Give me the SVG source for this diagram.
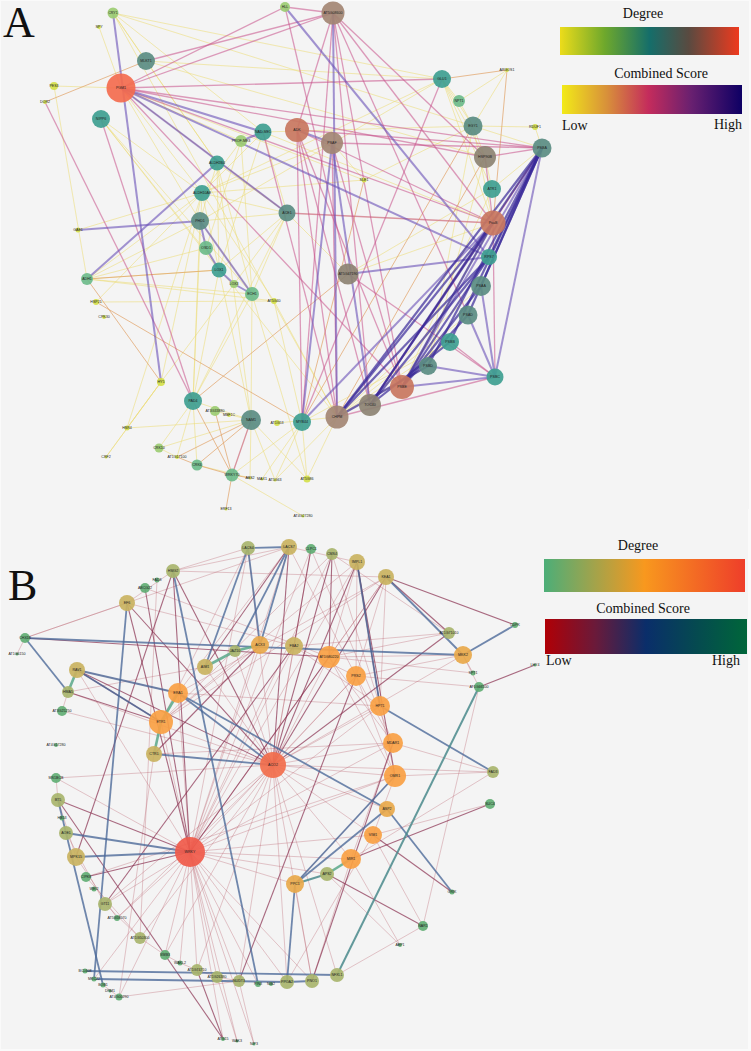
<svg xmlns="http://www.w3.org/2000/svg" width="751" height="1051" viewBox="0 0 751 1051">
<defs>
<linearGradient id="gDegA" x1="0" x2="1" y1="0" y2="0">
<stop offset="0" stop-color="#ecdc1a"/><stop offset="0.25" stop-color="#6ea82c"/><stop offset="0.5" stop-color="#156e6a"/><stop offset="0.72" stop-color="#5a4a40"/><stop offset="1" stop-color="#ee3a1e"/>
</linearGradient>
<linearGradient id="gScoA" x1="0" x2="1" y1="0" y2="0">
<stop offset="0" stop-color="#f2ea18"/><stop offset="0.25" stop-color="#d8903a"/><stop offset="0.48" stop-color="#c42c5c"/><stop offset="0.72" stop-color="#682070"/><stop offset="1" stop-color="#0e0064"/>
</linearGradient>
<linearGradient id="gDegB" x1="0" x2="1" y1="0" y2="0">
<stop offset="0" stop-color="#4cae78"/><stop offset="0.5" stop-color="#f8981e"/><stop offset="1" stop-color="#ee3e2a"/>
</linearGradient>
<linearGradient id="gScoB" x1="0" x2="1" y1="0" y2="0">
<stop offset="0" stop-color="#b00006"/><stop offset="0.25" stop-color="#6a1a3a"/><stop offset="0.5" stop-color="#0a2e6a"/><stop offset="0.75" stop-color="#054a50"/><stop offset="1" stop-color="#00663a"/>
</linearGradient>
<style>
.ay{stroke:#eedd77;stroke-width:0.8;opacity:0.7}
.ao{stroke:#e2a266;stroke-width:1;opacity:0.7}
.ap{stroke:#c8508a;stroke-width:1.3;opacity:0.55}
.av{stroke:#6a50b8;stroke-width:2;opacity:0.6}
.an{stroke:#3a2a9a;stroke-width:2.2;opacity:0.7}
.br{stroke:#b85a68;stroke-width:0.6;opacity:0.55}
.bd{stroke:#8a3050;stroke-width:1.1;opacity:0.7}
.bb{stroke:#4a6898;stroke-width:1.8;opacity:0.78}
.bg{stroke:#5aa88a;stroke-width:2.6;opacity:0.85}
.bt{stroke:#4a8a8c;stroke-width:2;opacity:0.85}
circle{stroke:none;opacity:0.92}
.t{font-family:"Liberation Sans",Arial,sans-serif;font-size:3.6px;fill:#222;text-anchor:middle;dominant-baseline:middle}
.L{font-family:"Liberation Serif","Times New Roman",serif;fill:#111}
.ky{fill:#d4e04a}.kl{fill:#9ccc72}.kg{fill:#6dbb8a}.kt{fill:#3e9e90}.ks{fill:#5a8c82}.kb{fill:#8c8272}.kn{fill:#a38573}.kr{fill:#c8765e}.kx{fill:#f36b4e}
.mg{fill:#62ae74}.mo{fill:#a8b46c}.mt{fill:#c9b260}.ma{fill:#e8a84a}.mp{fill:#f8a043}.mr{fill:#f26e4c}.mx{fill:#f05a4a}
</style>
</defs>
<rect x="0" y="0" width="751" height="1051" fill="#fafafa"/>
<rect x="1" y="1" width="748" height="508" fill="#f4f4f4"/>
<rect x="1" y="509" width="747" height="540" fill="#f4f4f4"/>

<text class="L" x="3" y="37" font-size="44">A</text>
<text class="L" x="8" y="600" font-size="44">B</text>

<g id="legendA">
<text class="L" x="643" y="18" font-size="14" text-anchor="middle">Degree</text>
<rect x="560" y="27" width="179" height="28" fill="url(#gDegA)"/>
<text class="L" x="661" y="78" font-size="14" text-anchor="middle">Combined Score</text>
<rect x="562" y="85" width="180" height="29" fill="url(#gScoA)"/>
<text class="L" x="562" y="130" font-size="14">Low</text>
<text class="L" x="742" y="129" font-size="14" text-anchor="end">High</text>
</g>
<g id="legendB">
<text class="L" x="638" y="550" font-size="14" text-anchor="middle">Degree</text>
<rect x="544" y="559" width="201" height="33" fill="url(#gDegB)"/>
<text class="L" x="643" y="613" font-size="14" text-anchor="middle">Combined Score</text>
<rect x="545" y="619" width="202" height="35" fill="url(#gScoB)"/>
<text class="L" x="546" y="665" font-size="14">Low</text>
<text class="L" x="740" y="665" font-size="14" text-anchor="end">High</text>
</g>

<g id="connectorsA">
<line class="ay" x1="113" y1="13" x2="146" y2="61"/>
<line class="ay" x1="113" y1="13" x2="442" y2="79"/>
<line class="ay" x1="113" y1="13" x2="217" y2="163"/>
<line class="ay" x1="113" y1="13" x2="263" y2="132"/>
<line class="ay" x1="113" y1="13" x2="473" y2="126"/>
<line class="ay" x1="113" y1="13" x2="337" y2="417"/>
<line class="ay" x1="99" y1="27" x2="121" y2="88"/>
<line class="ay" x1="54" y1="86" x2="121" y2="88"/>
<line class="ay" x1="54" y1="86" x2="87" y2="279"/>
<line class="ay" x1="146" y1="61" x2="217" y2="163"/>
<line class="ay" x1="146" y1="61" x2="485" y2="157"/>
<line class="ay" x1="146" y1="61" x2="442" y2="79"/>
<line class="ay" x1="101" y1="119" x2="219" y2="270"/>
<line class="ay" x1="101" y1="119" x2="202" y2="193"/>
<line class="ay" x1="101" y1="119" x2="252" y2="294"/>
<line class="ay" x1="101" y1="119" x2="337" y2="417"/>
<line class="ay" x1="121" y1="88" x2="241" y2="141"/>
<line class="ay" x1="121" y1="88" x2="202" y2="193"/>
<line class="ay" x1="121" y1="88" x2="200" y2="221"/>
<line class="ay" x1="121" y1="88" x2="364" y2="180"/>
<line class="ay" x1="217" y1="163" x2="287" y2="213"/>
<line class="ay" x1="202" y1="193" x2="219" y2="270"/>
<line class="ay" x1="202" y1="193" x2="332" y2="143"/>
<line class="ay" x1="202" y1="193" x2="442" y2="79"/>
<line class="ay" x1="202" y1="193" x2="87" y2="279"/>
<line class="ay" x1="202" y1="193" x2="274" y2="301"/>
<line class="ay" x1="200" y1="221" x2="87" y2="279"/>
<line class="ay" x1="200" y1="221" x2="193" y2="401"/>
<line class="ay" x1="200" y1="221" x2="252" y2="294"/>
<line class="ay" x1="200" y1="221" x2="287" y2="213"/>
<line class="ay" x1="200" y1="221" x2="442" y2="79"/>
<line class="ay" x1="206" y1="248" x2="87" y2="279"/>
<line class="ay" x1="219" y1="270" x2="87" y2="279"/>
<line class="ay" x1="87" y1="279" x2="252" y2="294"/>
<line class="ay" x1="87" y1="279" x2="274" y2="301"/>
<line class="ay" x1="96" y1="302" x2="202" y2="193"/>
<line class="ay" x1="96" y1="302" x2="274" y2="301"/>
<line class="ay" x1="78" y1="230" x2="202" y2="193"/>
<line class="ay" x1="161" y1="382" x2="127" y2="428"/>
<line class="ay" x1="161" y1="382" x2="202" y2="193"/>
<line class="ay" x1="161" y1="382" x2="106" y2="457"/>
<line class="ay" x1="193" y1="401" x2="159" y2="448"/>
<line class="ay" x1="193" y1="401" x2="177" y2="457"/>
<line class="ay" x1="193" y1="401" x2="197" y2="465"/>
<line class="ay" x1="193" y1="401" x2="251" y2="420"/>
<line class="ay" x1="193" y1="401" x2="202" y2="193"/>
<line class="ay" x1="193" y1="401" x2="219" y2="270"/>
<line class="ay" x1="193" y1="401" x2="252" y2="294"/>
<line class="ay" x1="193" y1="401" x2="287" y2="213"/>
<line class="ay" x1="215" y1="411" x2="251" y2="420"/>
<line class="ay" x1="251" y1="420" x2="232" y2="475"/>
<line class="ay" x1="251" y1="420" x2="159" y2="448"/>
<line class="ay" x1="251" y1="420" x2="275" y2="480"/>
<line class="ay" x1="251" y1="420" x2="252" y2="294"/>
<line class="ay" x1="251" y1="420" x2="219" y2="270"/>
<line class="ay" x1="251" y1="420" x2="217" y2="163"/>
<line class="ay" x1="251" y1="420" x2="250" y2="478"/>
<line class="ay" x1="251" y1="420" x2="127" y2="428"/>
<line class="ay" x1="159" y1="448" x2="177" y2="457"/>
<line class="ay" x1="197" y1="465" x2="250" y2="478"/>
<line class="ay" x1="307" y1="479" x2="302" y2="422"/>
<line class="ay" x1="307" y1="479" x2="337" y2="417"/>
<line class="ay" x1="307" y1="479" x2="251" y2="420"/>
<line class="ay" x1="307" y1="479" x2="252" y2="294"/>
<line class="ay" x1="364" y1="180" x2="332" y2="143"/>
<line class="ay" x1="364" y1="180" x2="473" y2="126"/>
<line class="ay" x1="364" y1="180" x2="202" y2="193"/>
<line class="ay" x1="442" y1="79" x2="473" y2="126"/>
<line class="ay" x1="442" y1="79" x2="459" y2="101"/>
<line class="ay" x1="442" y1="79" x2="485" y2="157"/>
<line class="ay" x1="442" y1="79" x2="493" y2="223"/>
<line class="ay" x1="442" y1="79" x2="492" y2="189"/>
<line class="ay" x1="459" y1="101" x2="473" y2="126"/>
<line class="ay" x1="507" y1="70" x2="473" y2="126"/>
<line class="ay" x1="507" y1="70" x2="459" y2="101"/>
<line class="ay" x1="473" y1="126" x2="485" y2="157"/>
<line class="ay" x1="473" y1="126" x2="542" y2="148"/>
<line class="ay" x1="473" y1="126" x2="428" y2="366"/>
<line class="ay" x1="535" y1="127" x2="542" y2="148"/>
<line class="ay" x1="535" y1="127" x2="473" y2="126"/>
<line class="ay" x1="485" y1="157" x2="492" y2="189"/>
<line class="ay" x1="485" y1="157" x2="428" y2="366"/>
<line class="ay" x1="492" y1="189" x2="542" y2="148"/>
<line class="ay" x1="492" y1="189" x2="402" y2="387"/>
<line class="ay" x1="492" y1="189" x2="348" y2="274"/>
<line class="ay" x1="493" y1="223" x2="348" y2="274"/>
<line class="ay" x1="493" y1="223" x2="287" y2="213"/>
<line class="ay" x1="493" y1="223" x2="263" y2="132"/>
<line class="ay" x1="481" y1="286" x2="337" y2="417"/>
<line class="ay" x1="468" y1="315" x2="337" y2="417"/>
<line class="ay" x1="450" y1="342" x2="337" y2="417"/>
<line class="ay" x1="450" y1="342" x2="302" y2="422"/>
<line class="ay" x1="428" y1="366" x2="337" y2="417"/>
<line class="ay" x1="287" y1="213" x2="348" y2="274"/>
<line class="ay" x1="287" y1="213" x2="219" y2="270"/>
<line class="ay" x1="287" y1="213" x2="252" y2="294"/>
<line class="ay" x1="287" y1="213" x2="202" y2="193"/>
<line class="ay" x1="274" y1="301" x2="337" y2="417"/>
<line class="ay" x1="274" y1="301" x2="302" y2="422"/>
<line class="ay" x1="302" y1="422" x2="232" y2="475"/>
<line class="ay" x1="302" y1="422" x2="262" y2="479"/>
<line class="ay" x1="302" y1="422" x2="275" y2="480"/>
<line class="ay" x1="337" y1="417" x2="275" y2="480"/>
<line class="ay" x1="337" y1="417" x2="277" y2="423"/>
<line class="ay" x1="241" y1="141" x2="202" y2="193"/>
<line class="ay" x1="241" y1="141" x2="206" y2="248"/>
<line class="ay" x1="241" y1="141" x2="252" y2="294"/>
<line class="ay" x1="263" y1="132" x2="219" y2="270"/>
<line class="ay" x1="263" y1="132" x2="202" y2="193"/>
<line class="ay" x1="263" y1="132" x2="287" y2="213"/>
<line class="ay" x1="263" y1="132" x2="473" y2="126"/>
<line class="ay" x1="217" y1="163" x2="200" y2="221"/>
<line class="ay" x1="217" y1="163" x2="252" y2="294"/>
<line class="ay" x1="217" y1="163" x2="219" y2="270"/>
<line class="ay" x1="493" y1="223" x2="473" y2="126"/>
<line class="ay" x1="493" y1="223" x2="402" y2="387"/>
<line class="ay" x1="232" y1="475" x2="303" y2="516"/>
<line class="ay" x1="161" y1="382" x2="287" y2="213"/>
<line class="ay" x1="127" y1="428" x2="202" y2="193"/>
<line class="ay" x1="106" y1="457" x2="161" y2="382"/>
<line class="ao" x1="45" y1="102" x2="146" y2="61"/>
<line class="ao" x1="193" y1="401" x2="232" y2="475"/>
<line class="ao" x1="215" y1="411" x2="232" y2="475"/>
<line class="ao" x1="197" y1="465" x2="232" y2="475"/>
<line class="ao" x1="177" y1="457" x2="197" y2="465"/>
<line class="ao" x1="232" y1="475" x2="226" y2="509"/>
<line class="ao" x1="96" y1="302" x2="302" y2="422"/>
<line class="ao" x1="87" y1="279" x2="161" y2="382"/>
<line class="ao" x1="87" y1="279" x2="219" y2="270"/>
<line class="ao" x1="442" y1="79" x2="507" y2="70"/>
<line class="ao" x1="507" y1="70" x2="493" y2="223"/>
<line class="ao" x1="485" y1="157" x2="337" y2="417"/>
<line class="ao" x1="542" y1="148" x2="370" y2="405"/>
<line class="ao" x1="364" y1="180" x2="302" y2="422"/>
<line class="ao" x1="348" y1="274" x2="193" y2="401"/>
<line class="ao" x1="287" y1="213" x2="121" y2="88"/>
<line class="ao" x1="251" y1="420" x2="197" y2="465"/>
<line class="ao" x1="251" y1="420" x2="177" y2="457"/>
<line class="ao" x1="233" y1="475" x2="250" y2="478"/>
<line class="ao" x1="473" y1="126" x2="302" y2="422"/>
<line class="ap" x1="121" y1="88" x2="333" y2="13"/>
<line class="ap" x1="121" y1="88" x2="542" y2="148"/>
<line class="ap" x1="121" y1="88" x2="485" y2="157"/>
<line class="ap" x1="121" y1="88" x2="493" y2="223"/>
<line class="ap" x1="121" y1="88" x2="402" y2="387"/>
<line class="ap" x1="121" y1="88" x2="442" y2="79"/>
<line class="ap" x1="101" y1="119" x2="193" y2="401"/>
<line class="ap" x1="45" y1="102" x2="193" y2="401"/>
<line class="ap" x1="146" y1="61" x2="333" y2="13"/>
<line class="ap" x1="285" y1="7" x2="348" y2="274"/>
<line class="ap" x1="285" y1="7" x2="333" y2="13"/>
<line class="ap" x1="285" y1="7" x2="121" y2="88"/>
<line class="ap" x1="333" y1="13" x2="493" y2="223"/>
<line class="ap" x1="333" y1="13" x2="402" y2="387"/>
<line class="ap" x1="333" y1="13" x2="468" y2="315"/>
<line class="ap" x1="333" y1="13" x2="485" y2="157"/>
<line class="ap" x1="333" y1="13" x2="302" y2="422"/>
<line class="ap" x1="333" y1="13" x2="370" y2="405"/>
<line class="ap" x1="333" y1="13" x2="297" y2="130"/>
<line class="ap" x1="297" y1="130" x2="337" y2="417"/>
<line class="ap" x1="297" y1="130" x2="370" y2="405"/>
<line class="ap" x1="297" y1="130" x2="302" y2="422"/>
<line class="ap" x1="297" y1="130" x2="402" y2="387"/>
<line class="ap" x1="297" y1="130" x2="542" y2="148"/>
<line class="ap" x1="297" y1="130" x2="493" y2="223"/>
<line class="ap" x1="332" y1="143" x2="542" y2="148"/>
<line class="ap" x1="332" y1="143" x2="402" y2="387"/>
<line class="ap" x1="332" y1="143" x2="337" y2="417"/>
<line class="ap" x1="485" y1="157" x2="493" y2="223"/>
<line class="ap" x1="542" y1="148" x2="485" y2="157"/>
<line class="ap" x1="542" y1="148" x2="493" y2="223"/>
<line class="ap" x1="337" y1="417" x2="495" y2="377"/>
<line class="ap" x1="348" y1="274" x2="495" y2="377"/>
<line class="ap" x1="287" y1="213" x2="493" y2="223"/>
<line class="ap" x1="495" y1="377" x2="450" y2="342"/>
<line class="ap" x1="495" y1="377" x2="493" y2="223"/>
<line class="ap" x1="442" y1="79" x2="302" y2="422"/>
<line class="ap" x1="263" y1="132" x2="337" y2="417"/>
<line class="ap" x1="370" y1="405" x2="493" y2="223"/>
<line class="ap" x1="232" y1="475" x2="251" y2="420"/>
<line class="av" x1="113" y1="13" x2="161" y2="382"/>
<line class="av" x1="121" y1="88" x2="287" y2="213"/>
<line class="av" x1="121" y1="88" x2="489" y2="257"/>
<line class="av" x1="121" y1="88" x2="263" y2="132"/>
<line class="av" x1="285" y1="7" x2="489" y2="257"/>
<line class="av" x1="200" y1="221" x2="78" y2="230"/>
<line class="av" x1="87" y1="279" x2="217" y2="163"/>
<line class="av" x1="263" y1="132" x2="241" y2="141"/>
<line class="av" x1="200" y1="221" x2="206" y2="248"/>
<line class="av" x1="206" y1="248" x2="219" y2="270"/>
<line class="av" x1="219" y1="270" x2="234" y2="284"/>
<line class="av" x1="234" y1="284" x2="252" y2="294"/>
<line class="av" x1="200" y1="221" x2="252" y2="294"/>
<line class="av" x1="348" y1="274" x2="489" y2="257"/>
<line class="av" x1="333" y1="13" x2="337" y2="417"/>
<line class="av" x1="332" y1="143" x2="370" y2="405"/>
<line class="av" x1="297" y1="130" x2="332" y2="143"/>
<line class="av" x1="542" y1="148" x2="495" y2="377"/>
<line class="av" x1="542" y1="148" x2="402" y2="387"/>
<line class="av" x1="495" y1="377" x2="402" y2="387"/>
<line class="av" x1="495" y1="377" x2="428" y2="366"/>
<line class="av" x1="495" y1="377" x2="468" y2="315"/>
<line class="av" x1="495" y1="377" x2="481" y2="286"/>
<line class="av" x1="302" y1="422" x2="493" y2="223"/>
<line class="av" x1="302" y1="422" x2="332" y2="143"/>
<line class="an" x1="542" y1="148" x2="450" y2="342"/>
<line class="an" x1="542" y1="148" x2="428" y2="366"/>
<line class="an" x1="542" y1="148" x2="370" y2="405"/>
<line class="an" x1="542" y1="148" x2="337" y2="417"/>
<line class="an" x1="542" y1="148" x2="481" y2="286"/>
<line class="an" x1="542" y1="148" x2="468" y2="315"/>
<line class="an" x1="542" y1="148" x2="489" y2="257"/>
<line class="an" x1="489" y1="257" x2="337" y2="417"/>
<line class="an" x1="489" y1="257" x2="370" y2="405"/>
<line class="an" x1="489" y1="257" x2="402" y2="387"/>
<line class="an" x1="493" y1="223" x2="402" y2="387"/>
<line class="an" x1="493" y1="223" x2="370" y2="405"/>
<line class="an" x1="493" y1="223" x2="337" y2="417"/>
<line class="an" x1="481" y1="286" x2="402" y2="387"/>
<line class="an" x1="468" y1="315" x2="402" y2="387"/>
<line class="an" x1="450" y1="342" x2="370" y2="405"/>
<line class="an" x1="428" y1="366" x2="337" y2="417"/>
</g>

<g id="nodesA">
<g id="a-CRY1"><circle class="kl" cx="113" cy="13" r="5.5"/><text class="t" x="113" y="13">CRY1</text></g>
<g id="a-SPY"><circle class="ky" cx="99" cy="27" r="2"/><text class="t" x="99" y="27">SPY</text></g>
<g id="a-HLL"><circle class="kl" cx="285" cy="7" r="5"/><text class="t" x="285" y="7">HLL</text></g>
<g id="a-AT5G08600"><circle class="kn" cx="333" cy="13" r="11.5"/><text class="t" x="333" y="13">AT5G08600</text></g>
<g id="a-MLKT1"><circle class="ks" cx="146" cy="61" r="9"/><text class="t" x="146" y="61">MLKT1</text></g>
<g id="a-PES3"><circle class="ky" cx="54" cy="86" r="4"/><text class="t" x="54" y="86">PES3</text></g>
<g id="a-DOR2"><circle class="ky" cx="45" cy="102" r="2"/><text class="t" x="45" y="102">DOR2</text></g>
<g id="a-PGM1"><circle class="kx" cx="121" cy="88" r="14.5"/><text class="t" x="121" y="88">PGM1</text></g>
<g id="a-NIPP6"><circle class="kt" cx="101" cy="119" r="9"/><text class="t" x="101" y="119">NIPP6</text></g>
<g id="a-NAD-ME1"><circle class="kt" cx="263" cy="132" r="8.5"/><text class="t" x="263" y="132">NAD-ME1</text></g>
<g id="a-PROF-ME3"><circle class="kl" cx="241" cy="141" r="6"/><text class="t" x="241" y="141">PROF-ME3</text></g>
<g id="a-ALDH2B4"><circle class="kt" cx="217" cy="163" r="7.5"/><text class="t" x="217" y="163">ALDH2B4</text></g>
<g id="a-ALDH10A8"><circle class="kt" cx="202" cy="193" r="8"/><text class="t" x="202" y="193">ALDH10A8</text></g>
<g id="a-PHD1"><circle class="ks" cx="200" cy="221" r="9"/><text class="t" x="200" y="221">PHD1</text></g>
<g id="a-GAE1"><circle class="ky" cx="78" cy="230" r="2.5"/><text class="t" x="78" y="230">GAE1</text></g>
<g id="a-OSD1"><circle class="kg" cx="206" cy="248" r="7"/><text class="t" x="206" y="248">OSD1</text></g>
<g id="a-ACE1"><circle class="ks" cx="287" cy="213" r="8.5"/><text class="t" x="287" y="213">ACE1</text></g>
<g id="a-GLU1"><circle class="kt" cx="442" cy="79" r="9"/><text class="t" x="442" y="79">GLU1</text></g>
<g id="a-NPT1"><circle class="kg" cx="459" cy="101" r="6"/><text class="t" x="459" y="101">NPT1</text></g>
<g id="a-ARGOS1"><circle class="ky" cx="507" cy="70" r="2"/><text class="t" x="507" y="70">ARGOS1</text></g>
<g id="a-EGY1"><circle class="ks" cx="473" cy="126" r="9.5"/><text class="t" x="473" y="126">EGY1</text></g>
<g id="a-RDUF1"><circle class="ky" cx="535" cy="127" r="3"/><text class="t" x="535" y="127">RDUF1</text></g>
<g id="a-PSBA"><circle class="ks" cx="542" cy="148" r="9.5"/><text class="t" x="542" y="148">PSBA</text></g>
<g id="a-ADK"><circle class="kr" cx="297" cy="130" r="12"/><text class="t" x="297" y="130">ADK</text></g>
<g id="a-PSAF"><circle class="kn" cx="332" cy="143" r="11"/><text class="t" x="332" y="143">PSAF</text></g>
<g id="a-HSP90B"><circle class="kb" cx="485" cy="157" r="11"/><text class="t" x="485" y="157">HSP90B</text></g>
<g id="a-SLE1"><circle class="ky" cx="364" cy="180" r="2.5"/><text class="t" x="364" y="180">SLE1</text></g>
<g id="a-ATR1"><circle class="kt" cx="492" cy="189" r="9"/><text class="t" x="492" y="189">ATR1</text></g>
<g id="a-PsaB"><circle class="kr" cx="493" cy="223" r="12.5"/><text class="t" x="493" y="223">PsaB</text></g>
<g id="a-RPS7"><circle class="kt" cx="489" cy="257" r="8"/><text class="t" x="489" y="257">RPS7</text></g>
<g id="a-ADH1"><circle class="kg" cx="87" cy="279" r="6"/><text class="t" x="87" y="279">ADH1</text></g>
<g id="a-HSP21"><circle class="ky" cx="96" cy="302" r="3"/><text class="t" x="96" y="302">HSP21</text></g>
<g id="a-CPK30"><circle class="ky" cx="104" cy="317" r="2"/><text class="t" x="104" y="317">CPK30</text></g>
<g id="a-LOX1"><circle class="kt" cx="219" cy="270" r="7.5"/><text class="t" x="219" y="270">LOX1</text></g>
<g id="a-LOX3"><circle class="kl" cx="234" cy="284" r="4"/><text class="t" x="234" y="284">LOX3</text></g>
<g id="a-ECH1"><circle class="kg" cx="252" cy="294" r="7"/><text class="t" x="252" y="294">ECH1</text></g>
<g id="a-AT5G40"><circle class="ky" cx="274" cy="301" r="3"/><text class="t" x="274" y="301">AT5G40</text></g>
<g id="a-HY5"><circle class="ky" cx="161" cy="382" r="4"/><text class="t" x="161" y="382">HY5</text></g>
<g id="a-PAD4"><circle class="kt" cx="193" cy="401" r="9"/><text class="t" x="193" y="401">PAD4</text></g>
<g id="a-AT3G33880"><circle class="kl" cx="215" cy="411" r="5"/><text class="t" x="215" y="411">AT3G33880</text></g>
<g id="a-MBF1C"><circle class="ky" cx="229" cy="415" r="2"/><text class="t" x="229" y="415">MBF1C</text></g>
<g id="a-NAM1"><circle class="ks" cx="251" cy="420" r="10"/><text class="t" x="251" y="420">NAM1</text></g>
<g id="a-AT1G53"><circle class="ky" cx="277" cy="423" r="3"/><text class="t" x="277" y="423">AT1G53</text></g>
<g id="a-HSR4"><circle class="ky" cx="127" cy="428" r="2.5"/><text class="t" x="127" y="428">HSR4</text></g>
<g id="a-CRK10"><circle class="kl" cx="159" cy="448" r="4.5"/><text class="t" x="159" y="448">CRK10</text></g>
<g id="a-CRF2"><circle class="ky" cx="106" cy="457" r="1.5"/><text class="t" x="106" y="457">CRF2</text></g>
<g id="a-AT1G17100"><circle class="ky" cx="177" cy="457" r="2"/><text class="t" x="177" y="457">AT1G17100</text></g>
<g id="a-CRK6"><circle class="kg" cx="197" cy="465" r="5.5"/><text class="t" x="197" y="465">CRK6</text></g>
<g id="a-WRKY70"><circle class="kg" cx="232" cy="475" r="6.5"/><text class="t" x="232" y="475">WRKY70</text></g>
<g id="a-ABS2"><circle class="ky" cx="250" cy="478" r="1.5"/><text class="t" x="250" y="478">ABS2</text></g>
<g id="a-MAX1"><circle class="ky" cx="262" cy="479" r="1.5"/><text class="t" x="262" y="479">MAX1</text></g>
<g id="a-AT5G63"><circle class="ky" cx="275" cy="480" r="1.5"/><text class="t" x="275" y="480">AT5G63</text></g>
<g id="a-ERF13"><circle class="ky" cx="226" cy="509" r="1.5"/><text class="t" x="226" y="509">ERF13</text></g>
<g id="a-AT5G47190"><circle class="kb" cx="348" cy="274" r="10.5"/><text class="t" x="348" y="274">AT5G47190</text></g>
<g id="a-PSAA"><circle class="ks" cx="481" cy="286" r="10"/><text class="t" x="481" y="286">PSAA</text></g>
<g id="a-PSAD"><circle class="ks" cx="468" cy="315" r="9.5"/><text class="t" x="468" y="315">PSAD</text></g>
<g id="a-PSBB"><circle class="kt" cx="450" cy="342" r="9"/><text class="t" x="450" y="342">PSBB</text></g>
<g id="a-PSBD"><circle class="ks" cx="428" cy="366" r="9"/><text class="t" x="428" y="366">PSBD</text></g>
<g id="a-PSBC"><circle class="kt" cx="495" cy="377" r="8.5"/><text class="t" x="495" y="377">PSBC</text></g>
<g id="a-PSBE"><circle class="kr" cx="402" cy="387" r="12"/><text class="t" x="402" y="387">PSBE</text></g>
<g id="a-TOC40"><circle class="kb" cx="370" cy="405" r="11"/><text class="t" x="370" y="405">TOC40</text></g>
<g id="a-CHPM"><circle class="kn" cx="337" cy="417" r="11.5"/><text class="t" x="337" y="417">CHPM</text></g>
<g id="a-MYB44"><circle class="kt" cx="302" cy="422" r="9"/><text class="t" x="302" y="422">MYB44</text></g>
<g id="a-AT5G86"><circle class="ky" cx="307" cy="479" r="3.5"/><text class="t" x="307" y="479">AT5G86</text></g>
<g id="a-AT4G27280"><circle class="ky" cx="303" cy="516" r="1.5"/><text class="t" x="303" y="516">AT4G27280</text></g>
</g>

<g id="connectorsB">
<line class="br" x1="273" y1="765" x2="248" y2="548"/>
<line class="br" x1="273" y1="765" x2="311" y2="549"/>
<line class="br" x1="273" y1="765" x2="62" y2="711"/>
<line class="br" x1="273" y1="765" x2="68" y2="692"/>
<line class="br" x1="273" y1="765" x2="235" y2="651"/>
<line class="br" x1="273" y1="765" x2="205" y2="667"/>
<line class="br" x1="273" y1="765" x2="294" y2="646"/>
<line class="br" x1="273" y1="765" x2="329" y2="657"/>
<line class="br" x1="273" y1="765" x2="356" y2="676"/>
<line class="br" x1="273" y1="765" x2="380" y2="706"/>
<line class="br" x1="273" y1="765" x2="393" y2="743"/>
<line class="br" x1="273" y1="765" x2="395" y2="776"/>
<line class="br" x1="273" y1="765" x2="463" y2="655"/>
<line class="br" x1="273" y1="765" x2="105" y2="904"/>
<line class="br" x1="273" y1="765" x2="117" y2="918"/>
<line class="br" x1="273" y1="765" x2="140" y2="938"/>
<line class="br" x1="273" y1="765" x2="165" y2="955"/>
<line class="br" x1="273" y1="765" x2="197" y2="970"/>
<line class="br" x1="273" y1="765" x2="239" y2="981"/>
<line class="br" x1="273" y1="765" x2="287" y2="982"/>
<line class="br" x1="273" y1="765" x2="312" y2="981"/>
<line class="br" x1="273" y1="765" x2="337" y2="975"/>
<line class="br" x1="273" y1="765" x2="351" y2="859"/>
<line class="br" x1="273" y1="765" x2="373" y2="835"/>
<line class="br" x1="273" y1="765" x2="387" y2="809"/>
<line class="br" x1="273" y1="765" x2="56" y2="778"/>
<line class="br" x1="273" y1="765" x2="493" y2="772"/>
<line class="br" x1="190" y1="852" x2="248" y2="548"/>
<line class="br" x1="190" y1="852" x2="289" y2="547"/>
<line class="br" x1="190" y1="852" x2="311" y2="549"/>
<line class="br" x1="190" y1="852" x2="332" y2="554"/>
<line class="br" x1="190" y1="852" x2="357" y2="562"/>
<line class="br" x1="190" y1="852" x2="386" y2="577"/>
<line class="br" x1="190" y1="852" x2="260" y2="645"/>
<line class="br" x1="190" y1="852" x2="294" y2="646"/>
<line class="br" x1="190" y1="852" x2="356" y2="676"/>
<line class="br" x1="190" y1="852" x2="380" y2="706"/>
<line class="br" x1="190" y1="852" x2="393" y2="743"/>
<line class="br" x1="190" y1="852" x2="395" y2="776"/>
<line class="br" x1="190" y1="852" x2="373" y2="835"/>
<line class="br" x1="190" y1="852" x2="351" y2="859"/>
<line class="br" x1="190" y1="852" x2="327" y2="874"/>
<line class="br" x1="190" y1="852" x2="295" y2="884"/>
<line class="br" x1="190" y1="852" x2="105" y2="904"/>
<line class="br" x1="190" y1="852" x2="117" y2="918"/>
<line class="br" x1="190" y1="852" x2="165" y2="955"/>
<line class="br" x1="190" y1="852" x2="180" y2="963"/>
<line class="br" x1="190" y1="852" x2="197" y2="970"/>
<line class="br" x1="190" y1="852" x2="217" y2="977"/>
<line class="br" x1="190" y1="852" x2="239" y2="981"/>
<line class="br" x1="190" y1="852" x2="258" y2="984"/>
<line class="br" x1="190" y1="852" x2="119" y2="997"/>
<line class="br" x1="190" y1="852" x2="94" y2="979"/>
<line class="br" x1="190" y1="852" x2="287" y2="982"/>
<line class="br" x1="190" y1="852" x2="312" y2="981"/>
<line class="br" x1="190" y1="852" x2="223" y2="1039"/>
<line class="br" x1="190" y1="852" x2="237" y2="1041"/>
<line class="br" x1="190" y1="852" x2="254" y2="1044"/>
<line class="br" x1="190" y1="852" x2="56" y2="778"/>
<line class="br" x1="190" y1="852" x2="77" y2="670"/>
<line class="br" x1="190" y1="852" x2="178" y2="693"/>
<line class="br" x1="190" y1="852" x2="161" y2="722"/>
<line class="br" x1="173" y1="571" x2="248" y2="548"/>
<line class="br" x1="173" y1="571" x2="289" y2="547"/>
<line class="br" x1="173" y1="571" x2="386" y2="577"/>
<line class="br" x1="127" y1="603" x2="173" y2="571"/>
<line class="br" x1="127" y1="603" x2="294" y2="646"/>
<line class="br" x1="25" y1="638" x2="127" y2="603"/>
<line class="br" x1="25" y1="638" x2="17" y2="654"/>
<line class="br" x1="25" y1="638" x2="289" y2="547"/>
<line class="br" x1="289" y1="547" x2="357" y2="562"/>
<line class="br" x1="289" y1="547" x2="356" y2="676"/>
<line class="br" x1="311" y1="549" x2="393" y2="743"/>
<line class="br" x1="332" y1="554" x2="380" y2="706"/>
<line class="br" x1="357" y1="562" x2="329" y2="657"/>
<line class="br" x1="357" y1="562" x2="356" y2="676"/>
<line class="br" x1="386" y1="577" x2="356" y2="676"/>
<line class="br" x1="386" y1="577" x2="380" y2="706"/>
<line class="br" x1="386" y1="577" x2="329" y2="657"/>
<line class="br" x1="449" y1="633" x2="294" y2="646"/>
<line class="br" x1="449" y1="633" x2="332" y2="554"/>
<line class="br" x1="449" y1="633" x2="329" y2="657"/>
<line class="br" x1="463" y1="655" x2="329" y2="657"/>
<line class="br" x1="463" y1="655" x2="473" y2="673"/>
<line class="br" x1="463" y1="655" x2="479" y2="687"/>
<line class="br" x1="463" y1="655" x2="356" y2="676"/>
<line class="br" x1="473" y1="673" x2="329" y2="657"/>
<line class="br" x1="479" y1="687" x2="356" y2="676"/>
<line class="br" x1="294" y1="646" x2="380" y2="706"/>
<line class="br" x1="294" y1="646" x2="356" y2="676"/>
<line class="br" x1="329" y1="657" x2="393" y2="743"/>
<line class="br" x1="329" y1="657" x2="395" y2="776"/>
<line class="br" x1="356" y1="676" x2="393" y2="743"/>
<line class="br" x1="356" y1="676" x2="395" y2="776"/>
<line class="br" x1="380" y1="706" x2="395" y2="776"/>
<line class="br" x1="393" y1="743" x2="493" y2="772"/>
<line class="br" x1="393" y1="743" x2="351" y2="859"/>
<line class="br" x1="395" y1="776" x2="373" y2="835"/>
<line class="br" x1="395" y1="776" x2="295" y2="884"/>
<line class="br" x1="395" y1="776" x2="493" y2="772"/>
<line class="br" x1="493" y1="772" x2="351" y2="859"/>
<line class="br" x1="490" y1="804" x2="373" y2="835"/>
<line class="br" x1="373" y1="835" x2="423" y2="926"/>
<line class="br" x1="351" y1="859" x2="400" y2="945"/>
<line class="br" x1="295" y1="884" x2="312" y2="981"/>
<line class="br" x1="351" y1="859" x2="312" y2="981"/>
<line class="br" x1="373" y1="835" x2="287" y2="982"/>
<line class="br" x1="423" y1="926" x2="337" y2="975"/>
<line class="br" x1="479" y1="687" x2="423" y2="926"/>
<line class="br" x1="77" y1="670" x2="178" y2="693"/>
<line class="br" x1="68" y1="692" x2="205" y2="667"/>
<line class="br" x1="68" y1="692" x2="62" y2="711"/>
<line class="br" x1="56" y1="778" x2="58" y2="800"/>
<line class="br" x1="58" y1="800" x2="76" y2="857"/>
<line class="br" x1="66" y1="833" x2="105" y2="904"/>
<line class="br" x1="76" y1="857" x2="117" y2="918"/>
<line class="br" x1="86" y1="877" x2="140" y2="938"/>
<line class="br" x1="105" y1="904" x2="140" y2="938"/>
<line class="br" x1="140" y1="938" x2="165" y2="955"/>
<line class="br" x1="165" y1="955" x2="180" y2="963"/>
<line class="br" x1="180" y1="963" x2="197" y2="970"/>
<line class="br" x1="197" y1="970" x2="217" y2="977"/>
<line class="br" x1="217" y1="977" x2="239" y2="981"/>
<line class="br" x1="119" y1="997" x2="103" y2="985"/>
<line class="br" x1="119" y1="997" x2="239" y2="981"/>
<line class="br" x1="217" y1="977" x2="237" y2="1041"/>
<line class="br" x1="239" y1="981" x2="254" y2="1044"/>
<line class="br" x1="161" y1="722" x2="248" y2="548"/>
<line class="br" x1="161" y1="722" x2="357" y2="562"/>
<line class="br" x1="161" y1="722" x2="332" y2="554"/>
<line class="br" x1="161" y1="722" x2="386" y2="577"/>
<line class="br" x1="161" y1="722" x2="260" y2="645"/>
<line class="br" x1="178" y1="693" x2="380" y2="706"/>
<line class="br" x1="178" y1="693" x2="386" y2="577"/>
<line class="br" x1="178" y1="693" x2="289" y2="547"/>
<line class="br" x1="154" y1="754" x2="393" y2="743"/>
<line class="br" x1="154" y1="754" x2="119" y2="997"/>
<line class="br" x1="145" y1="588" x2="329" y2="657"/>
<line class="br" x1="157" y1="580" x2="140" y2="938"/>
<line class="br" x1="86" y1="877" x2="395" y2="776"/>
<line class="br" x1="327" y1="874" x2="400" y2="945"/>
<line class="bd" x1="273" y1="765" x2="386" y2="577"/>
<line class="bd" x1="273" y1="765" x2="357" y2="562"/>
<line class="bd" x1="273" y1="765" x2="332" y2="554"/>
<line class="bd" x1="273" y1="765" x2="173" y2="571"/>
<line class="bd" x1="273" y1="765" x2="127" y2="603"/>
<line class="bd" x1="273" y1="765" x2="77" y2="670"/>
<line class="bd" x1="273" y1="765" x2="449" y2="633"/>
<line class="bd" x1="273" y1="765" x2="289" y2="547"/>
<line class="bd" x1="190" y1="852" x2="127" y2="603"/>
<line class="bd" x1="190" y1="852" x2="145" y2="588"/>
<line class="bd" x1="190" y1="852" x2="58" y2="800"/>
<line class="bd" x1="190" y1="852" x2="86" y2="877"/>
<line class="bd" x1="190" y1="852" x2="329" y2="657"/>
<line class="bd" x1="190" y1="852" x2="173" y2="571"/>
<line class="bd" x1="25" y1="638" x2="329" y2="657"/>
<line class="bd" x1="357" y1="562" x2="380" y2="706"/>
<line class="bd" x1="357" y1="562" x2="395" y2="776"/>
<line class="bd" x1="386" y1="577" x2="449" y2="633"/>
<line class="bd" x1="386" y1="577" x2="515" y2="625"/>
<line class="bd" x1="479" y1="687" x2="535" y2="665"/>
<line class="bd" x1="373" y1="835" x2="452" y2="892"/>
<line class="bd" x1="327" y1="874" x2="423" y2="926"/>
<line class="bd" x1="351" y1="859" x2="490" y2="804"/>
<line class="bd" x1="58" y1="800" x2="223" y2="1039"/>
<line class="bd" x1="76" y1="857" x2="173" y2="571"/>
<line class="bd" x1="332" y1="554" x2="329" y2="657"/>
<line class="bd" x1="311" y1="549" x2="294" y2="646"/>
<line class="bd" x1="289" y1="547" x2="205" y2="667"/>
<line class="bd" x1="77" y1="670" x2="161" y2="722"/>
<line class="bd" x1="68" y1="692" x2="161" y2="722"/>
<line class="bd" x1="154" y1="754" x2="260" y2="645"/>
<line class="bd" x1="105" y1="904" x2="294" y2="646"/>
<line class="bd" x1="197" y1="970" x2="223" y2="1039"/>
<line class="bd" x1="239" y1="981" x2="356" y2="676"/>
<line class="bd" x1="312" y1="981" x2="393" y2="743"/>
<line class="bb" x1="25" y1="638" x2="463" y2="655"/>
<line class="bb" x1="25" y1="638" x2="68" y2="692"/>
<line class="bb" x1="77" y1="670" x2="161" y2="722"/>
<line class="bb" x1="77" y1="670" x2="178" y2="693"/>
<line class="bb" x1="205" y1="667" x2="248" y2="548"/>
<line class="bb" x1="248" y1="548" x2="260" y2="645"/>
<line class="bb" x1="248" y1="548" x2="289" y2="547"/>
<line class="bb" x1="289" y1="547" x2="235" y2="651"/>
<line class="bb" x1="289" y1="547" x2="260" y2="645"/>
<line class="bb" x1="173" y1="571" x2="258" y2="984"/>
<line class="bb" x1="127" y1="603" x2="94" y2="979"/>
<line class="bb" x1="58" y1="800" x2="103" y2="985"/>
<line class="bb" x1="66" y1="833" x2="190" y2="852"/>
<line class="bb" x1="76" y1="857" x2="190" y2="852"/>
<line class="bb" x1="85" y1="971" x2="337" y2="975"/>
<line class="bb" x1="94" y1="979" x2="287" y2="982"/>
<line class="bb" x1="295" y1="884" x2="287" y2="982"/>
<line class="bb" x1="312" y1="981" x2="287" y2="982"/>
<line class="bb" x1="295" y1="884" x2="387" y2="809"/>
<line class="bb" x1="295" y1="884" x2="395" y2="776"/>
<line class="bb" x1="387" y1="809" x2="452" y2="892"/>
<line class="bb" x1="386" y1="577" x2="463" y2="655"/>
<line class="bb" x1="463" y1="655" x2="515" y2="625"/>
<line class="bb" x1="380" y1="706" x2="493" y2="772"/>
<line class="bb" x1="154" y1="754" x2="273" y2="765"/>
<line class="bb" x1="178" y1="693" x2="387" y2="809"/>
<line class="bb" x1="178" y1="693" x2="273" y2="765"/>
<line class="bb" x1="357" y1="562" x2="380" y2="706"/>
<line class="bg" x1="77" y1="670" x2="68" y2="692"/>
<line class="bg" x1="235" y1="651" x2="205" y2="667"/>
<line class="bg" x1="235" y1="651" x2="260" y2="645"/>
<line class="bg" x1="178" y1="693" x2="161" y2="722"/>
<line class="bg" x1="161" y1="722" x2="154" y2="754"/>
<line class="bg" x1="327" y1="874" x2="351" y2="859"/>
<line class="bt" x1="337" y1="975" x2="479" y2="687"/>
<line class="bt" x1="295" y1="884" x2="327" y2="874"/>
</g>

<g id="nodesB">
<g id="b-LACS4"><circle class="mo" cx="248" cy="548" r="7"/><text class="t" x="248" y="548">LACS4</text></g>
<g id="b-LACS7"><circle class="mt" cx="289" cy="547" r="8"/><text class="t" x="289" y="547">LACS7</text></g>
<g id="b-CLPC1"><circle class="mg" cx="311" cy="549" r="5"/><text class="t" x="311" y="549">CLPC1</text></g>
<g id="b-CMS4"><circle class="mo" cx="332" cy="554" r="6"/><text class="t" x="332" y="554">CMS4</text></g>
<g id="b-IMPL1"><circle class="mt" cx="357" cy="562" r="8"/><text class="t" x="357" y="562">IMPL1</text></g>
<g id="b-KEA1"><circle class="mt" cx="386" cy="577" r="8"/><text class="t" x="386" y="577">KEA1</text></g>
<g id="b-HMG2"><circle class="mo" cx="173" cy="571" r="7"/><text class="t" x="173" y="571">HMG2</text></g>
<g id="b-FAD8"><circle class="mg" cx="157" cy="580" r="2.5"/><text class="t" x="157" y="580">FAD8</text></g>
<g id="b-ABCG22"><circle class="mg" cx="145" cy="588" r="5"/><text class="t" x="145" y="588">ABCG22</text></g>
<g id="b-EF6"><circle class="mt" cx="127" cy="603" r="8"/><text class="t" x="127" y="603">EF6</text></g>
<g id="b-CHX18"><circle class="mg" cx="25" cy="638" r="5"/><text class="t" x="25" y="638">CHX18</text></g>
<g id="b-AT1G6150"><circle class="mg" cx="17" cy="654" r="1.5"/><text class="t" x="17" y="654">AT1G6150</text></g>
<g id="b-AT1G71010"><circle class="mo" cx="449" cy="633" r="6"/><text class="t" x="449" y="633">AT1G71010</text></g>
<g id="b-CDPK"><circle class="mg" cx="515" cy="625" r="3"/><text class="t" x="515" y="625">CDPK</text></g>
<g id="b-MKK2"><circle class="ma" cx="463" cy="655" r="9"/><text class="t" x="463" y="655">MKK2</text></g>
<g id="b-SPT1"><circle class="mg" cx="473" cy="673" r="2.5"/><text class="t" x="473" y="673">SPT1</text></g>
<g id="b-AT1G66500"><circle class="mg" cx="479" cy="687" r="5"/><text class="t" x="479" y="687">AT1G66500</text></g>
<g id="b-LHY4"><circle class="mg" cx="535" cy="665" r="1.5"/><text class="t" x="535" y="665">LHY4</text></g>
<g id="b-FBA2"><circle class="mt" cx="294" cy="646" r="9"/><text class="t" x="294" y="646">FBA2</text></g>
<g id="b-AT1G80220"><circle class="mp" cx="329" cy="657" r="11"/><text class="t" x="329" y="657">AT1G80220</text></g>
<g id="b-PRS2"><circle class="mp" cx="356" cy="676" r="10"/><text class="t" x="356" y="676">PRS2</text></g>
<g id="b-HPT1"><circle class="mp" cx="380" cy="706" r="10"/><text class="t" x="380" y="706">HPT1</text></g>
<g id="b-MDAR1"><circle class="mp" cx="393" cy="743" r="10"/><text class="t" x="393" y="743">MDAR1</text></g>
<g id="b-OMR1"><circle class="mp" cx="395" cy="776" r="11"/><text class="t" x="395" y="776">OMR1</text></g>
<g id="b-FAD3"><circle class="mo" cx="493" cy="772" r="6"/><text class="t" x="493" y="772">FAD3</text></g>
<g id="b-SUC4"><circle class="mg" cx="490" cy="804" r="5"/><text class="t" x="490" y="804">SUC4</text></g>
<g id="b-ACX3"><circle class="ma" cx="260" cy="645" r="9"/><text class="t" x="260" y="645">ACX3</text></g>
<g id="b-JAZ10"><circle class="mo" cx="235" cy="651" r="6"/><text class="t" x="235" y="651">JAZ10</text></g>
<g id="b-AIM1"><circle class="mt" cx="205" cy="667" r="8"/><text class="t" x="205" y="667">AIM1</text></g>
<g id="b-ERA1"><circle class="mp" cx="178" cy="693" r="10"/><text class="t" x="178" y="693">ERA1</text></g>
<g id="b-ETR1"><circle class="mp" cx="161" cy="722" r="12"/><text class="t" x="161" y="722">ETR1</text></g>
<g id="b-CTR1"><circle class="mt" cx="154" cy="754" r="8"/><text class="t" x="154" y="754">CTR1</text></g>
<g id="b-RAV1"><circle class="mt" cx="77" cy="670" r="8"/><text class="t" x="77" y="670">RAV1</text></g>
<g id="b-HMA5"><circle class="mo" cx="68" cy="692" r="6"/><text class="t" x="68" y="692">HMA5</text></g>
<g id="b-AT3G25250"><circle class="mg" cx="62" cy="711" r="5"/><text class="t" x="62" y="711">AT3G25250</text></g>
<g id="b-AT4G17280"><circle class="mg" cx="56" cy="745" r="2"/><text class="t" x="56" y="745">AT4G17280</text></g>
<g id="b-ACO2"><circle class="mr" cx="273" cy="765" r="13"/><text class="t" x="273" y="765">ACO2</text></g>
<g id="b-MS1BCB"><circle class="mg" cx="56" cy="778" r="5"/><text class="t" x="56" y="778">MS1BCB</text></g>
<g id="b-BT5"><circle class="mo" cx="58" cy="800" r="7"/><text class="t" x="58" y="800">BT5</text></g>
<g id="b-HB53"><circle class="mg" cx="62" cy="818" r="2.5"/><text class="t" x="62" y="818">HB53</text></g>
<g id="b-AOE1"><circle class="mo" cx="66" cy="833" r="7"/><text class="t" x="66" y="833">AOE1</text></g>
<g id="b-MPK15"><circle class="mt" cx="76" cy="857" r="9"/><text class="t" x="76" y="857">MPK15</text></g>
<g id="b-CIPK8"><circle class="mg" cx="86" cy="877" r="5"/><text class="t" x="86" y="877">CIPK8</text></g>
<g id="b-WEI2"><circle class="mg" cx="94" cy="889" r="2.5"/><text class="t" x="94" y="889">WEI2</text></g>
<g id="b-GT11"><circle class="mo" cx="105" cy="904" r="7"/><text class="t" x="105" y="904">GT11</text></g>
<g id="b-AT5G58070"><circle class="mg" cx="117" cy="918" r="3"/><text class="t" x="117" y="918">AT5G58070</text></g>
<g id="b-AT1G50300"><circle class="mo" cx="140" cy="938" r="6"/><text class="t" x="140" y="938">AT1G50300</text></g>
<g id="b-SWB3"><circle class="mg" cx="165" cy="955" r="5"/><text class="t" x="165" y="955">SWB3</text></g>
<g id="b-WAKL2"><circle class="mg" cx="180" cy="963" r="2.5"/><text class="t" x="180" y="963">WAKL2</text></g>
<g id="b-AT1G74710"><circle class="mo" cx="197" cy="970" r="6"/><text class="t" x="197" y="970">AT1G74710</text></g>
<g id="b-AT1G26380"><circle class="mo" cx="217" cy="977" r="6"/><text class="t" x="217" y="977">AT1G26380</text></g>
<g id="b-NUDT3"><circle class="mo" cx="239" cy="981" r="6"/><text class="t" x="239" y="981">NUDT3</text></g>
<g id="b-PIN3"><circle class="mg" cx="258" cy="984" r="3"/><text class="t" x="258" y="984">PIN3</text></g>
<g id="b-NIB2"><circle class="mg" cx="271" cy="984" r="2"/><text class="t" x="271" y="984">NIB2</text></g>
<g id="b-BCL608"><circle class="mg" cx="85" cy="971" r="2.5"/><text class="t" x="85" y="971">BCL608</text></g>
<g id="b-MKC22"><circle class="mg" cx="94" cy="979" r="2.5"/><text class="t" x="94" y="979">MKC22</text></g>
<g id="b-BOB1"><circle class="mg" cx="103" cy="985" r="2.5"/><text class="t" x="103" y="985">BOB1</text></g>
<g id="b-DRM1"><circle class="mg" cx="110" cy="991" r="1.5"/><text class="t" x="110" y="991">DRM1</text></g>
<g id="b-AT4G00290"><circle class="mg" cx="119" cy="997" r="3.5"/><text class="t" x="119" y="997">AT4G00290</text></g>
<g id="b-ATG15"><circle class="mg" cx="223" cy="1039" r="2"/><text class="t" x="223" y="1039">ATG15</text></g>
<g id="b-WAK3"><circle class="mg" cx="237" cy="1041" r="1.5"/><text class="t" x="237" y="1041">WAK3</text></g>
<g id="b-NIP3"><circle class="mg" cx="254" cy="1044" r="1.5"/><text class="t" x="254" y="1044">NIP3</text></g>
<g id="b-PPOA2"><circle class="mo" cx="287" cy="982" r="7"/><text class="t" x="287" y="982">PPOA2</text></g>
<g id="b-PNO1"><circle class="mo" cx="312" cy="981" r="7"/><text class="t" x="312" y="981">PNO1</text></g>
<g id="b-NFXL1"><circle class="mo" cx="337" cy="975" r="7"/><text class="t" x="337" y="975">NFXL1</text></g>
<g id="b-PPC1"><circle class="ma" cx="295" cy="884" r="9"/><text class="t" x="295" y="884">PPC1</text></g>
<g id="b-APS2"><circle class="mo" cx="327" cy="874" r="7"/><text class="t" x="327" y="874">APS2</text></g>
<g id="b-MIR1"><circle class="mp" cx="351" cy="859" r="10"/><text class="t" x="351" y="859">MIR1</text></g>
<g id="b-VIM1"><circle class="mp" cx="373" cy="835" r="9"/><text class="t" x="373" y="835">VIM1</text></g>
<g id="b-ASP2"><circle class="ma" cx="387" cy="809" r="8"/><text class="t" x="387" y="809">ASP2</text></g>
<g id="b-GRIK"><circle class="mg" cx="452" cy="892" r="2.5"/><text class="t" x="452" y="892">GRIK</text></g>
<g id="b-NAR1"><circle class="mg" cx="423" cy="926" r="5"/><text class="t" x="423" y="926">NAR1</text></g>
<g id="b-AEP1"><circle class="mg" cx="400" cy="945" r="2"/><text class="t" x="400" y="945">AEP1</text></g>
<g id="b-WRKY"><circle class="mx" cx="190" cy="852" r="15"/><text class="t" x="190" y="852">WRKY</text></g>
</g>
</svg>
